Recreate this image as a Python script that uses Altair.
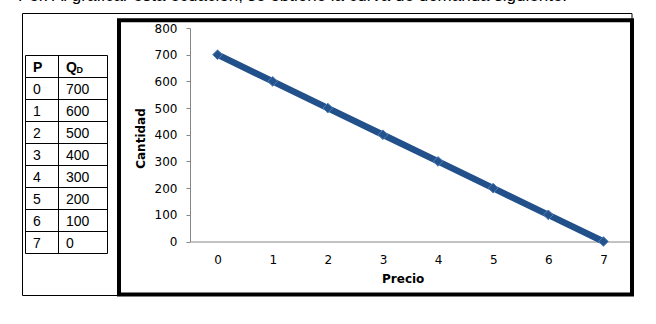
import altair as alt
import pandas as pd

# ---- data ----
precio = [0, 1, 2, 3, 4, 5, 6, 7]
cantidad = [700, 600, 500, 400, 300, 200, 100, 0]
y_ticks = [0, 100, 200, 300, 400, 500, 600, 700, 800]
header_p = "P"
header_q = "Q"
header_q_sub = "D"
intro_text = "Por. Al graficar esta ecuación, se obtiene la  curva de demanda siguiente:"

df = pd.DataFrame({"P": precio, "Q": cantidad})

n_rows = len(precio) + 1
tbl = pd.DataFrame({
    "row": list(range(1, n_rows)),
    "p": [str(v) for v in precio],
    "q": [str(v) for v in cantidad],
})
hdr = pd.DataFrame({"row": [0]})
edges = pd.DataFrame({"edge": list(range(0, n_rows + 1))})

LINE = "#21508A"
AXIS_GREY = "#868686"
TICK_FONT = "DejaVu Sans"
TBL_FONT = "Liberation Sans"

W, H = 441, 213.5

x_scale = alt.Scale(paddingInner=0, paddingOuter=0)
y_scale = alt.Scale(domain=[0, 800], nice=False)

x_axis = alt.Axis(
    title="Precio", labelAngle=0, ticks=False, tickSize=0,
    labelPadding=18, labelBaseline="middle", labelFont=TICK_FONT,
    labelFontSize=12, labelColor="black", domainColor=AXIS_GREY,
    labelOverlap=False,
    titleFont=TICK_FONT, titleFontSize=12, titleFontWeight="bold",
    titleColor="black", titleX=212.7, titleY=37, titleBaseline="middle",
)
y_axis = alt.Axis(
    title="Cantidad", values=y_ticks, grid=False, tickSize=4,
    tickColor=AXIS_GREY, domainColor=AXIS_GREY, labelPadding=9,
    labelOverlap=False,
    labelFont=TICK_FONT, labelFontSize=12, labelColor="black",
    titleFont=TICK_FONT, titleFontSize=12, titleFontWeight="bold",
    titleColor="black", titleX=-50, titleY=110, titleAngle=-90,
    titleBaseline="middle",
)

base = alt.Chart(df).encode(
    x=alt.X("P:O", sort=precio, scale=x_scale, axis=x_axis),
    y=alt.Y("Q:Q", scale=y_scale, axis=y_axis),
)
line = base.mark_line(color=LINE, strokeWidth=6.5)
pts = base.mark_point(
    shape="diamond", filled=True, size=95, fill="#24538C",
    stroke="#4F81BD", strokeWidth=1, opacity=1,
)
main = alt.layer(line, pts)

row_scale = alt.Scale(domain=[0, n_rows], range=[27.5, 225.5])

# table grid
h_rules = alt.Chart(edges).mark_rule(color="black", strokeWidth=1).encode(
    y=alt.Y("edge:Q", scale=row_scale, axis=None),
    x=alt.value(-164.5), x2=alt.value(-82.5),
)
v_rules = [
    alt.Chart(hdr).mark_rule(color="black", strokeWidth=1).encode(
        x=alt.value(xv), y=alt.value(27.5), y2=alt.value(225.5))
    for xv in (-164.5, -131.5, -82.5)
]

cell_p = alt.Chart(tbl).transform_calculate(mid="datum.row + 0.5").mark_text(
    align="left", baseline="middle", font=TBL_FONT, fontSize=14, color="black", dy=1
).encode(y=alt.Y("mid:Q", scale=row_scale, axis=None), x=alt.value(-157), text="p:N")
cell_q = alt.Chart(tbl).transform_calculate(mid="datum.row + 0.5").mark_text(
    align="left", baseline="middle", font=TBL_FONT, fontSize=14, color="black", dy=1
).encode(y=alt.Y("mid:Q", scale=row_scale, axis=None), x=alt.value(-124), text="q:N")

hdr_base = alt.Chart(hdr).transform_calculate(mid="datum.row + 0.5")
hdr_p = hdr_base.mark_text(
    align="left", baseline="middle", font=TBL_FONT, fontSize=14, fontWeight="bold",
    color="black", text=header_p, dy=1
).encode(y=alt.Y("mid:Q", scale=row_scale, axis=None), x=alt.value(-157))
hdr_q = hdr_base.mark_text(
    align="left", baseline="middle", font=TBL_FONT, fontSize=14, fontWeight="bold",
    color="black", text=header_q, dy=1
).encode(y=alt.Y("mid:Q", scale=row_scale, axis=None), x=alt.value(-124))
hdr_qd = hdr_base.mark_text(
    align="left", baseline="middle", font=TBL_FONT, fontSize=9, fontWeight="bold",
    color="black", text=header_q_sub, dy=3
).encode(y=alt.Y("mid:Q", scale=row_scale, axis=None), x=alt.value(-113.5))

# frames
thin_box = alt.Chart(hdr).mark_rect(filled=False, color="black", strokeWidth=1).encode(
    x=alt.value(-167.5), x2=alt.value(442), y=alt.value(-14.5), y2=alt.value(267.5))
thick_box = alt.Chart(hdr).mark_rect(filled=False, color="black", strokeWidth=4).encode(
    x=alt.value(-71), x2=alt.value(442), y=alt.value(-7.7), y2=alt.value(266.5))

top_text = alt.Chart(hdr).mark_text(
    align="left", baseline="alphabetic", font=TBL_FONT, fontSize=17, color="black",
    text=intro_text
).encode(x=alt.value(-172), y=alt.value(-27.5))

chart = alt.layer(
    thin_box, thick_box, top_text, h_rules, *v_rules,
    cell_p, cell_q, hdr_p, hdr_q, hdr_qd, main,
).resolve_scale(x="independent", y="independent").properties(
    width=W, height=H,
    autosize=alt.AutoSizeParams(type="none"),
    padding={"left": 190, "top": 28, "right": 25, "bottom": 82.5},
    background="white",
).configure_view(stroke=None)

chart.save("out.html", embed_options={"renderer": "svg", "actions": False})
